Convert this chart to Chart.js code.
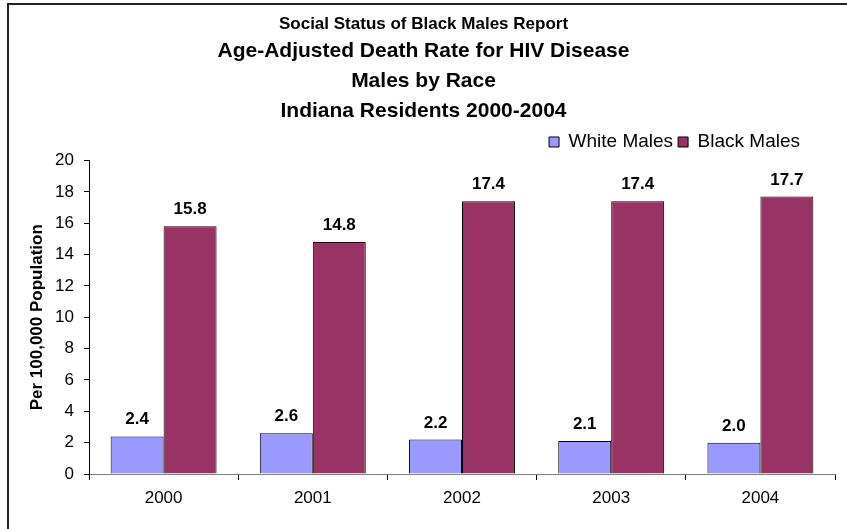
<!DOCTYPE html>
<html>
<head>
<meta charset="utf-8">
<script src="https://cdn.jsdelivr.net/npm/chart.js@4"></script>
<style>
  html, body { margin: 0; padding: 0; background: #fff; overflow: hidden; }
  #wrap { position: relative; width: 847px; height: 529px; }
  #frame { position: absolute; left: 7px; top: 3px; width: 900px; height: 600px;
           border: 2px solid #222; box-sizing: border-box; pointer-events: none; }
  canvas { position: absolute; left: 0; top: 0; }
</style>
</head>
<body>
<div id="wrap">
  <canvas id="chart" width="847" height="529"></canvas>
  <div id="frame"></div>
</div>
<script>
// Chart data
var years = ["2000", "2001", "2002", "2003", "2004"];
var whiteMales = [2.4, 2.6, 2.2, 2.1, 2.0];
var blackMales = [15.8, 14.8, 17.4, 17.4, 17.7];

var fontFamily = "'Liberation Sans', Arial, sans-serif";

// writes each bar's value above it
var valueLabels = {
  id: "valueLabels",
  afterDatasetsDraw: function (chart) {
    var ctx = chart.ctx;
    ctx.save();
    ctx.font = "bold 17px " + fontFamily;
    ctx.fillStyle = "#000";
    ctx.textAlign = "center";
    ctx.textBaseline = "alphabetic";
    chart.data.datasets.forEach(function (ds, di) {
      chart.getDatasetMeta(di).data.forEach(function (bar, i) {
        ctx.fillText(ds.data[i].toFixed(1), bar.x, bar.y - 12);
      });
    });
    ctx.restore();
  }
};

// nudge the legend row: fixed distance above the plot, pulled in from the right edge
var legendShift = {
  id: "legendShift",
  afterLayout: function (chart) {
    var lg = chart.legend;
    var h = lg.bottom - lg.top;
    lg.top = chart.chartArea.top - 33;
    lg.bottom = lg.top + h;
    lg.left -= 30;
    lg.right -= 30;
  }
};

new Chart(document.getElementById("chart"), {
  type: "bar",
  data: {
    labels: years,
    datasets: [
      {
        label: "White Males",
        data: whiteMales,
        backgroundColor: "#9999FF",
        borderColor: "#000",
        borderWidth: 1,
        categoryPercentage: 0.71,
        barPercentage: 1
      },
      {
        label: "Black Males",
        data: blackMales,
        backgroundColor: "#993366",
        borderColor: "#000",
        borderWidth: 1,
        categoryPercentage: 0.71,
        barPercentage: 1
      }
    ]
  },
  options: {
    responsive: false,
    animation: false,
    layout: { padding: { left: 12, right: 12, top: -9, bottom: 0 } },
    scales: {
      x: {
        grid: { offset: true, drawOnChartArea: false, drawTicks: true, tickLength: 6, color: "#000" },
        border: { color: "#808080", width: 1 },
        ticks: { color: "#000", font: { size: 17, family: fontFamily }, padding: 8 },
        afterFit: function (scale) { scale.height = 55; }
      },
      y: {
        min: 0,
        max: 20,
        ticks: { stepSize: 2, color: "#000", font: { size: 17, family: fontFamily }, padding: 10 },
        grid: { drawOnChartArea: false, drawTicks: true, tickLength: 5, color: "#000" },
        border: { color: "#000", width: 1 },
        title: {
          display: true,
          text: "Per 100,000 Population",
          color: "#000",
          font: { size: 17, weight: "bold", family: fontFamily },
          padding: { top: 15, bottom: 6 }
        },
        afterFit: function (scale) { scale.width = 77; }
      }
    },
    plugins: {
      title: {
        display: true,
        text: "Social Status of Black Males Report",
        color: "#000",
        font: { size: 17, weight: "bold", family: fontFamily, lineHeight: 1.2 },
        padding: { top: 23, bottom: 2 }
      },
      subtitle: {
        display: true,
        text: ["Age-Adjusted Death Rate for HIV Disease", "Males by Race", "Indiana Residents 2000-2004"],
        color: "#000",
        font: { size: 21, weight: "bold", family: fontFamily, lineHeight: 1.43 },
        padding: { top: 0, bottom: 0 }
      },
      legend: {
        position: "top",
        align: "end",
        labels: {
          color: "#000",
          boxWidth: 10,
          boxHeight: 10,
          padding: 5,
          font: { size: 19, family: fontFamily }
        }
      },
      tooltip: { enabled: false }
    }
  },
  plugins: [valueLabels, legendShift]
});
</script>
</body>
</html>
